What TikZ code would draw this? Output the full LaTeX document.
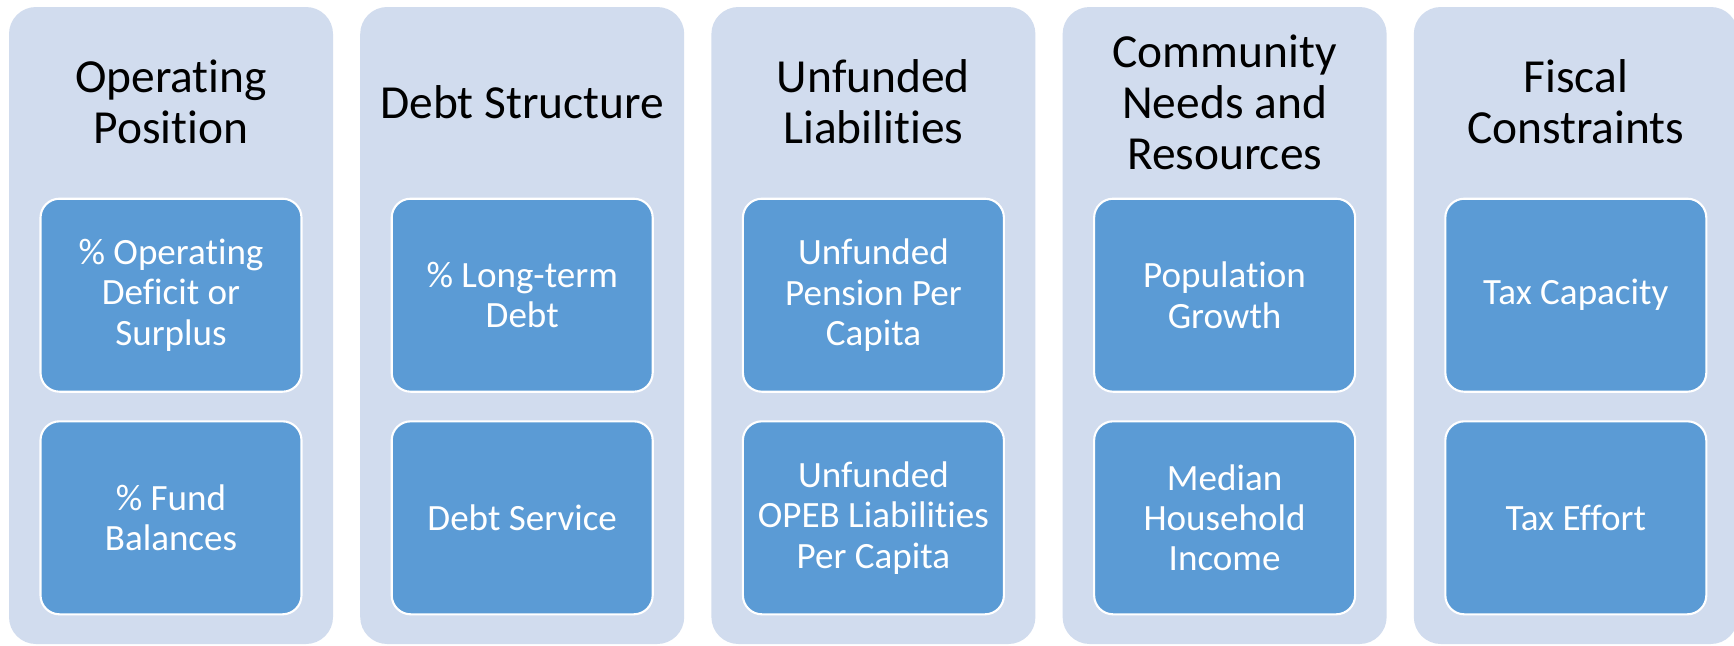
\documentclass[tikz,border=0pt]{standalone}
\usepackage{fontspec}
\setmainfont{Carlito}[RawFeature={-liga;-clig;-calt;-dlig;-ccmp}]
\usepackage{xcolor}
\usepackage{tikz}
\usetikzlibrary{positioning}
\definecolor{panelblue}{RGB}{209,220,238}
\definecolor{boxblue}{RGB}{91,155,213}
\tikzset{%
  % Specifications for style of nodes:
  panel/.style = {rectangle, rounded corners=0.54cm, fill=panelblue,
    minimum width=6.48cm,
    minimum height=12.74cm},
  heading/.style = {text=black, align=center,
    font=\fontsize{27}{29}\selectfont},
  measure/.style = {rectangle, rounded corners=0.38cm, draw=white,
    line width=1.2pt, fill=boxblue,
    minimum width=5.22cm,
    minimum height=3.86cm,
    text=white, align=center,
    font=\fontsize{21.1}{23}\selectfont},
}

\begin{document}
\begin{tikzpicture}
        \path[use as bounding box, fill=white] (0,0) rectangle (34.68,-12.9);
        % Specification of nodes (position, etc.)
        \node(OpPos)[panel] at (3.42,-6.51) {};
        \node(Debt)[panel,right=0.53cm of OpPos] {};
        \node(Unfund)[panel,right=0.53cm of Debt] {};
        \node(Comm)[panel,right=0.53cm of Unfund] {};
        \node(Fiscal)[panel,right=0.53cm of Comm] {};
        % headings
        \node(OpPosT)[heading,below=1.91cm of OpPos.north,anchor=center]{Operating \\ Position};
        \node(DebtT)[heading,below=1.91cm of Debt.north,anchor=center]{Debt Structure};
        \node(UnfundT)[heading,below=1.91cm of Unfund.north,anchor=center]{Unfunded \\ Liabilities};
        \node(CommT)[heading,below=1.91cm of Comm.north,anchor=center]{Community \\ Needs and \\ Resources};
        \node(FiscalT)[heading,below=1.91cm of Fiscal.north,anchor=center]{Fiscal \\ Constraints};
        % measures
        \node(OpDef)[measure,below=3.82cm of OpPos.north]{\% Operating \\ Deficit or \\ Surplus};
        \node(OpFund)[measure,below=0.55cm of OpDef]{\% Fund \\ Balances};
        \node(DebtLT)[measure,below=3.82cm of Debt.north]{\% Long-term \\ Debt};
        \node(DebtSvc)[measure,below=0.55cm of DebtLT]{Debt Service};
        \node(Pension)[measure,below=3.82cm of Unfund.north]{Unfunded \\ Pension Per \\ Capita};
        \node(OPEB)[measure,below=0.55cm of Pension]{Unfunded \\ OPEB Liabilities \\ Per Capita};
        \node(PopGr)[measure,below=3.82cm of Comm.north]{Population \\ Growth};
        \node(Income)[measure,below=0.55cm of PopGr]{Median \\ Household \\ Income};
        \node(TaxCap)[measure,below=3.82cm of Fiscal.north]{Tax Capacity};
        \node(TaxEff)[measure,below=0.55cm of TaxCap]{Tax Effort};
    \end{tikzpicture}
\end{document}
